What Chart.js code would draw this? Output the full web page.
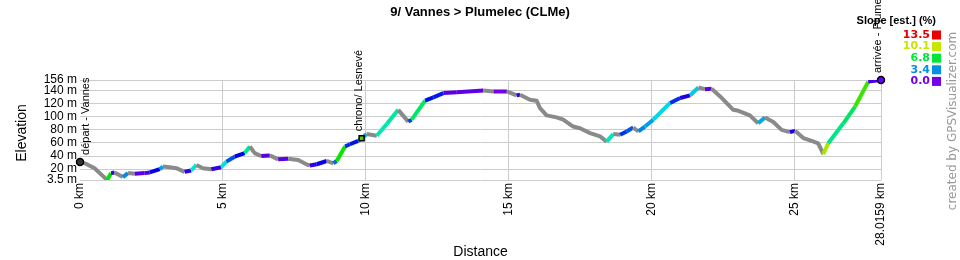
<!DOCTYPE html>
<html lang="en">
<head>
  <meta charset="UTF-8">
  <title>9/ Vannes > Plumelec (CLMe)</title>
  <script src="https://cdn.jsdelivr.net/npm/chart.js"></script>
  <style>
    body { margin: 0; background: #ffffff; }
    canvas { display: block; }
  </style>
</head>
<body>
  <canvas id="profileChart" width="960" height="260"></canvas>

  <script>
    // distance (km) and elevation (m)
    const distKm = [0, 0.22, 0.51, 0.69, 0.95, 1.09, 1.21, 1.50, 1.68, 1.91, 2.26, 2.44, 2.79, 2.90, 3.14, 3.37,
      3.66, 3.89, 4.07, 4.30, 4.59, 4.94, 5.12, 5.41, 5.76, 5.94, 6.11, 6.34, 6.64, 6.93, 7.28, 7.63, 7.97, 8.04,
      8.28, 8.63, 8.86, 8.98, 9.27, 9.44, 9.73, 9.85, 10.02, 10.38, 10.73, 11.13, 11.48, 11.60, 12.07, 12.36,
      12.71, 13.18, 14.11, 14.46, 14.93, 15.27, 15.39, 15.74, 15.97, 16.09, 16.32, 16.67, 16.90, 17.25, 17.49,
      17.84, 18.19, 18.42, 18.65, 18.89, 19.12, 19.35, 19.53, 19.76, 20.05, 20.64, 20.99, 21.34, 21.63, 21.86,
      22.09, 22.39, 22.85, 23.03, 23.43, 23.72, 23.96, 24.25, 24.54, 24.83, 25.01, 25.30, 25.59, 25.82, 26.00,
      26.17, 26.70, 27.11, 27.57, 28.0159];
    const elevM = [31, 28, 21.5, 14, 3.5, 14, 15, 8, 14, 13, 14, 15, 20, 24, 23, 21.5,
      16, 18, 26.5, 21.5, 20, 23, 31.5, 39, 44.5, 54.5, 44.5, 40, 41, 35, 36, 34, 26.5, 25.5,
      27.5, 32.5, 29, 32.5, 54.5, 58, 63, 67.3, 73.5, 71, 89, 110.5, 92.5, 95.5, 124.5, 129.5,
      136, 137.5, 140, 138.5, 138.5, 132.5, 133.5, 126, 124.5, 113, 102, 99, 95.5, 85, 82.5,
      75, 70, 62, 73.5, 72.5, 77.5, 83.5, 77.5, 85, 95.5, 121, 128.5, 132.5, 144.5, 142,
      142.5, 131, 110.5, 109, 102, 90, 99, 92, 80, 76.5, 78.5, 67.5, 63, 59.5, 43,
      59.5, 90, 115.5, 153.5, 156];

    const xTicks = [0, 5, 10, 15, 20, 25, 28.0159];
    const yTicks = [3.5, 20, 40, 60, 80, 100, 120, 140, 156];

    const markerKm = [0, 9.85, 28.0159];
    const markerElev = [31, 67.3, 156];
    const markerLabels = ["départ - Vannes", "chrono/ Lesnevé", "arrivée - Plumelec"];

    const slopeLegend = [13.5, 10.1, 6.8, 3.4, 0.0];

    function slopeColor(s) {
      if (s < 0) return '#8a8a8a';
      const h = 270 * (1 - Math.min(s, 13.5) / 13.5);
      return 'hsl(' + h + ',100%,45%)';
    }

    const grid = '#cccccc';
    const sans = '"Liberation Sans", Arial, sans-serif';
    const wide = '"DejaVu Sans", Verdana, sans-serif';

    // title, axis titles, slope legend, credit and waypoint names
    const decorations = {
      id: 'decorations',
      afterDraw(chart) {
        const ctx = chart.ctx;
        const area = chart.chartArea;
        ctx.save();
        ctx.fillStyle = '#000';
        ctx.textAlign = 'center';
        ctx.textBaseline = 'middle';
        ctx.font = 'bold 13px ' + sans;
        ctx.fillText('9/ Vannes > Plumelec (CLMe)', 480, 12);

        ctx.font = '14px ' + sans;
        ctx.fillText('Distance', (area.left + area.right) / 2, 252);
        ctx.save();
        ctx.translate(22, 133);
        ctx.rotate(-Math.PI / 2);
        ctx.fillText('Elevation', 0, 0);
        ctx.restore();

        // slope legend
        ctx.font = 'bold 11px ' + sans;
        ctx.textAlign = 'right';
        ctx.fillText('Slope [est.] (%)', 936, 21);
        ctx.font = 'bold 11px ' + wide;
        slopeLegend.forEach((v, i) => {
          const y = 35 + i * 11.6;
          ctx.fillStyle = slopeColor(v);
          ctx.fillText(v.toFixed(1), 930, y);
          ctx.fillRect(932, y - 4.5, 9, 9);
        });

        // credit
        ctx.fillStyle = '#999';
        ctx.font = '12px ' + wide;
        ctx.textAlign = 'center';
        ctx.save();
        ctx.translate(953, 121);
        ctx.rotate(-Math.PI / 2);
        ctx.fillText('created by GPSVisualizer.com', 0, 0);
        ctx.restore();

        // waypoint names
        const pts = chart.getDatasetMeta(1).data;
        ctx.fillStyle = '#000';
        ctx.font = '11px ' + sans;
        ctx.textAlign = 'left';
        pts.forEach((p, i) => {
          ctx.save();
          ctx.translate(p.x + (i === 0 ? 6 : -3), p.y - 7);
          ctx.rotate(-Math.PI / 2);
          ctx.fillText(markerLabels[i], 0, 0);
          ctx.restore();
        });
        ctx.restore();
      }
    };

    new Chart(document.getElementById('profileChart'), {
      type: 'line',
      data: {
        datasets: [{
          data: distKm.map((d, i) => ({ x: d, y: elevM[i] })),
          borderColor: '#8a8a8a',
          borderWidth: 4,
          borderJoinStyle: 'round',
          pointRadius: 0,
          tension: 0,
          order: 1,
          segment: {
            borderColor: c => slopeColor((c.p1.parsed.y - c.p0.parsed.y) / ((c.p1.parsed.x - c.p0.parsed.x) * 10))
          }
        }, {
          data: markerKm.map((d, i) => ({ x: d, y: markerElev[i] })),
          showLine: false,
          pointStyle: ['circle', 'rect', 'circle'],
          pointRadius: 3.5,
          pointBackgroundColor: ['#333333', '#55cc00', '#6a00ff'],
          pointBorderColor: '#000',
          pointBorderWidth: 1.5,
          clip: false,
          order: 0
        }]
      },
      options: {
        responsive: false,
        devicePixelRatio: 1,
        animation: false,
        layout: { padding: { top: 80, right: 79, left: 0, bottom: 0 } },
        plugins: {
          legend: { display: false },
          tooltip: { enabled: false }
        },
        scales: {
          x: {
            type: 'linear',
            min: 0,
            max: 28.0159,
            afterFit: s => { s.height = 80; },
            afterBuildTicks: s => { s.ticks = xTicks.map(v => ({ value: v })); },
            border: { display: false },
            grid: {
              drawTicks: false,
              color: c => (c.tick && c.tick.value === 0 ? 'rgba(0,0,0,0)' : grid)
            },
            ticks: {
              autoSkip: false,
              minRotation: 90,
              maxRotation: 90,
              padding: 3,
              color: '#000',
              font: { family: sans, size: 12 },
              callback: v => v + ' km'
            }
          },
          y: {
            min: 3.5,
            max: 156,
            afterFit: s => { s.width = 80; },
            afterBuildTicks: s => { s.ticks = yTicks.map(v => ({ value: v })); },
            border: { display: false },
            grid: { drawTicks: false, color: grid },
            ticks: {
              autoSkip: false,
              padding: 3,
              color: '#000',
              font: { family: sans, size: 12 },
              callback: v => v + ' m'
            }
          }
        }
      },
      plugins: [decorations]
    });
  </script>
</body>
</html>
